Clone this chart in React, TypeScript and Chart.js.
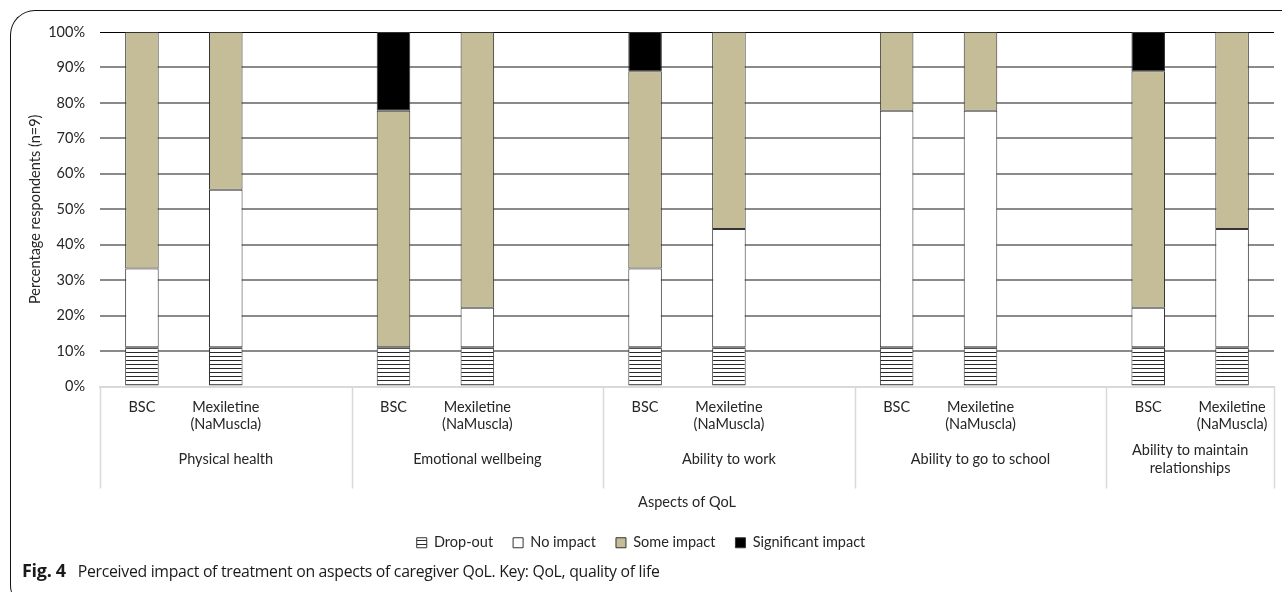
import { useEffect, useRef } from 'react';
import { Chart, registerables } from 'chart.js';

Chart.register(...registerables);

// Category slots: BSC, Mexiletine and a spacer slot for each aspect (last aspect has no spacer)
const MEX = ['Mexiletine', '(NaMuscla)'];
const categories: (string | string[])[] = [
  'BSC', MEX, '',
  'BSC', MEX, '',
  'BSC', MEX, '',
  'BSC', MEX, '',
  'BSC', MEX,
];

const aspectLabels: string[][] = [
  ['Physical health'],
  ['Emotional wellbeing'],
  ['Ability to work'],
  ['Ability to go to school'],
  ['Ability to maintain', 'relationships'],
];
const aspectSlots = [3, 3, 3, 3, 2];

// Percentage of respondents (n=9)
const dropOut = [11.1, 11.1, null, 11.1, 11.1, null, 11.1, 11.1, null, 11.1, 11.1, null, 11.1, 11.1];
const noImpact = [22.2, 44.4, null, 0, 11.1, null, 22.2, 33.3, null, 66.7, 66.7, null, 11.1, 33.3];
const someImpact = [66.7, 44.5, null, 66.7, 77.8, null, 55.6, 55.6, null, 22.2, 22.2, null, 66.7, 55.6];
const significantImpact = [0, 0, null, 22.2, 0, null, 11.1, 0, null, 0, 0, null, 11.1, 0];

const yTicks = [0, 10, 20, 30, 40, 50, 60, 70, 80, 90, 100];

const FONT = 'Lato, "Open Sans", sans-serif';
const FS = 14.5;
const TEXT = '#262626';

function makeStripes(): CanvasPattern | string {
  const c = document.createElement('canvas');
  c.width = 8;
  c.height = 4;
  const g = c.getContext('2d');
  if (!g) return '#fff';
  g.fillStyle = '#ffffff';
  g.fillRect(0, 0, 8, 4);
  g.fillStyle = '#2a2a2a';
  g.fillRect(0, 0, 8, 1);
  return g.createPattern(c, 'repeat') || '#fff';
}

// Draws the second level of the category axis: separators and aspect names
const aspectAxisPlugin = {
  id: 'aspectAxis',
  afterDraw(chart: any) {
    const x = chart.scales.x;
    const ctx = chart.ctx;
    const half = (x.getPixelForValue(1) - x.getPixelForValue(0)) / 2;
    const top = x.top;
    const bottom = x.top + 102;
    ctx.save();
    ctx.strokeStyle = '#d9d9d9';
    ctx.lineWidth = 1.5;
    ctx.font = `${FS}px ${FONT}`;
    ctx.fillStyle = TEXT;
    ctx.textAlign = 'center';
    ctx.textBaseline = 'middle';
    let idx = 0;
    const drawSep = (px: number) => {
      ctx.beginPath();
      ctx.moveTo(Math.round(px) + 0.5, top);
      ctx.lineTo(Math.round(px) + 0.5, bottom);
      ctx.stroke();
    };
    aspectLabels.forEach((lines, i) => {
      const left = x.getPixelForValue(idx) - half;
      const right = x.getPixelForValue(idx + aspectSlots[i] - 1) + half;
      drawSep(left);
      const cx = (left + right) / 2;
      const lh = 18;
      const cy = top + 73 - ((lines.length - 1) * lh) / 2;
      lines.forEach((t, j) => ctx.fillText(t, cx, cy + j * lh));
      idx += aspectSlots[i];
      if (i === aspectLabels.length - 1) drawSep(right);
    });
    ctx.restore();
  },
};

// Nudges the legend row so it is centred on the whole figure width
const legendShiftPlugin = {
  id: 'legendShift',
  afterUpdate(chart: any) {
    const lg = chart.legend;
    if (lg) {
      lg.left += 4;
      lg.right += 4;
    }
  },
};

export default function App() {
  const ref = useRef<HTMLCanvasElement | null>(null);

  useEffect(() => {
    if (!ref.current) return;
    const stripes = makeStripes();
    const common = {
      borderColor: '#333333',
      borderWidth: 1,
      borderSkipped: false,
      categoryPercentage: 1,
      barPercentage: 0.4,
    };
    const chart = new Chart(ref.current, {
      type: 'bar',
      data: {
        labels: categories,
        datasets: [
          { label: 'Drop-out', data: dropOut, backgroundColor: stripes, ...common },
          { label: 'No impact', data: noImpact, backgroundColor: '#ffffff', ...common },
          { label: 'Some impact', data: someImpact, backgroundColor: '#c4bd97', ...common },
          { label: 'Significant impact', data: significantImpact, backgroundColor: '#000000', ...common },
        ] as any,
      },
      options: {
        animation: false,
        responsive: true,
        maintainAspectRatio: false,
        events: [],
        layout: { padding: { top: 32, right: 8, bottom: 0, left: 0 } },
        plugins: {
          tooltip: { enabled: false },
          legend: {
            position: 'bottom',
            labels: {
              boxWidth: 10,
              boxHeight: 10,
              padding: 20,
              color: TEXT,
              font: { family: FONT, size: FS },
            },
          },
        },
        scales: {
          x: {
            stacked: true,
            afterFit: (s: any) => { s.height = 129; },
            grid: { display: false },
            border: { display: true, color: '#d9d9d9', width: 2 },
            ticks: {
              autoSkip: false,
              maxRotation: 0,
              padding: 5,
              color: TEXT,
              font: { family: FONT, size: FS, lineHeight: 1.12 },
            },
            title: {
              display: true,
              text: 'Aspects of QoL',
              color: TEXT,
              font: { family: FONT, size: FS },
              padding: { top: 0, bottom: 4 },
            },
          },
          y: {
            stacked: true,
            min: 0,
            max: 100,
            afterFit: (s: any) => { s.width = 100; },
            afterBuildTicks: (s: any) => { s.ticks = yTicks.map((v) => ({ value: v })); },
            border: { display: false },
            grid: {
              drawTicks: false,
              lineWidth: (c: any) => (c.tick && c.tick.value === 100 ? 1 : 2),
              color: (c: any) =>
                c.tick && c.tick.value === 0 ? 'rgba(0,0,0,0)' : c.tick && c.tick.value === 100 ? '#000' : '#8a8a8a',
            },
            ticks: {
              padding: 15,
              color: TEXT,
              font: { family: FONT, size: FS },
              callback: (v: any) => `${v}%`,
            },
            title: {
              display: true,
              text: 'Percentage respondents (n=9)',
              color: TEXT,
              font: { family: FONT, size: FS },
              padding: { top: 27, bottom: 0 },
            },
          },
        },
      },
      plugins: [aspectAxisPlugin, legendShiftPlugin],
    });
    return () => chart.destroy();
  }, []);

  return (
    <div
      style={{
        position: 'fixed',
        left: 0,
        top: 0,
        width: 1282,
        height: 592,
        overflow: 'hidden',
        background: '#fff',
      }}
    >
      <div
        style={{
          position: 'absolute',
          left: 10,
          top: 10,
          width: 1320,
          height: 600,
          borderTop: '1px solid #111',
          borderLeft: '1px solid #111',
          borderRadius: 25,
          boxSizing: 'border-box',
        }}
      />
      <div style={{ position: 'absolute', left: 0, top: 0, width: 1282, height: 560 }}>
        <canvas ref={ref} />
      </div>
      <div
        style={{
          position: 'absolute',
          left: 22,
          top: 558,
          fontFamily: '"Open Sans", sans-serif',
          fontSize: 15.8,
          color: '#1a1a1a',
          whiteSpace: 'nowrap',
          letterSpacing: -0.3,
          lineHeight: '24px',
        }}
      >
        <span style={{ fontWeight: 700, fontSize: 18, marginRight: 12 }}>Fig. 4</span>
        Perceived impact of treatment on aspects of caregiver QoL. Key: QoL, quality of life
      </div>
    </div>
  );
}
